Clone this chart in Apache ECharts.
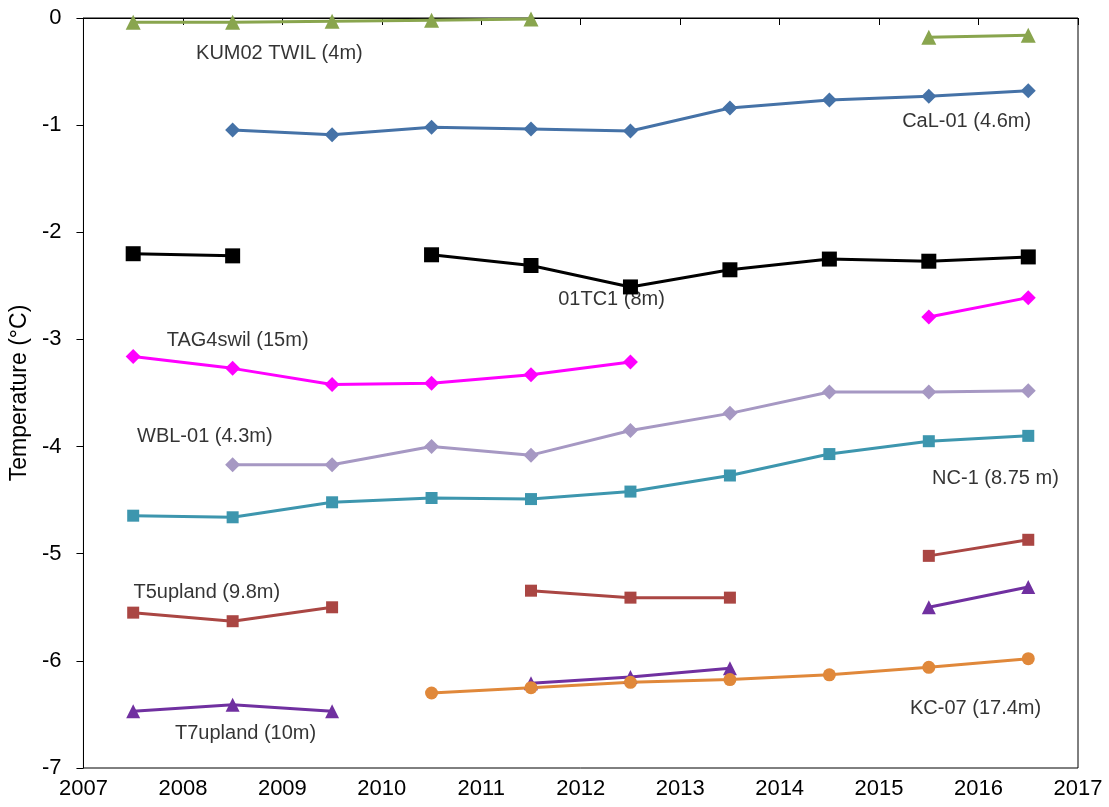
<!DOCTYPE html>
<html>
<head>
<meta charset="utf-8">
<script src="https://cdn.jsdelivr.net/npm/echarts@6/dist/echarts.min.js"></script>
<style>html,body{margin:0;padding:0;background:#fff}#c{width:1109px;height:807px}</style>
</head>
<body>
<div id="c"></div>
<script>
const years = [2007.5, 2008.5, 2009.5, 2010.5, 2011.5, 2012.5, 2013.5, 2014.5, 2015.5, 2016.5];
const kum02 = [-0.04, -0.04, -0.03, -0.02, -0.01, null, null, null, -0.18, -0.16];
const cal01 = [null, -1.045, -1.09, -1.02, -1.035, -1.055, -0.84, -0.765, -0.73, -0.68];
const tc01 = [-2.20, -2.22, null, -2.21, -2.31, -2.51, -2.35, -2.25, -2.27, -2.23];
const tag4 = [-3.16, -3.27, -3.42, -3.41, -3.33, -3.21, null, null, -2.79, -2.61];
const wbl01 = [null, -4.17, -4.17, -4.00, -4.08, -3.85, -3.69, -3.49, -3.49, -3.48];
const nc1 = [-4.645, -4.66, -4.52, -4.48, -4.49, -4.42, -4.27, -4.07, -3.95, -3.90];
const t5 = [-5.55, -5.63, -5.50, null, -5.345, -5.41, -5.41, null, -5.02, -4.87];
const t7 = [-6.47, -6.41, -6.47, null, -6.21, -6.15, -6.07, null, -5.50, -5.31];
const kc07 = [null, null, null, -6.30, -6.25, -6.20, -6.175, -6.13, -6.06, -5.98];
const labels = [
  [2008.97, -0.33, 'KUM02 TWIL (4m)'],
  [2015.88, -0.97, 'CaL-01 (4.6m)'],
  [2012.31, -2.63, '01TC1 (8m)'],
  [2008.55, -3.01, 'TAG4swil (15m)'],
  [2008.22, -3.91, 'WBL-01 (4.3m)'],
  [2016.17, -4.30, 'NC-1 (8.75 m)'],
  [2008.24, -5.36, 'T5upland (9.8m)'],
  [2008.63, -6.68, 'T7upland (10m)'],
  [2015.97, -6.44, 'KC-07 (17.4m)']
];
const FONT = 'Liberation Sans, Arial, sans-serif';
function mk(name, vals, color, symbol, size) {
  return {
    name: name, type: 'line',
    data: years.map((y, i) => [y, vals[i] === null ? '-' : vals[i]]),
    symbol: symbol, symbolSize: size,
    lineStyle: {color: color, width: 3},
    itemStyle: {color: color},
    connectNulls: false,
    silent: true, animation: false, z: 3
  };
}
const chart = echarts.init(document.getElementById('c'));
chart.setOption({
  animation: false,
  grid: {left: 82, right: 31, top: 18, bottom: 39, show: true, borderColor: '#000', borderWidth: 1},
  xAxis: {
    type: 'value', min: 2007, max: 2017, interval: 1,
    axisLine: {show: true, lineStyle: {color: '#000', width: 1}},
    axisTick: {show: true, inside: false, length: 7, lineStyle: {color: '#000'}},
    splitLine: {show: false},
    axisLabel: {color: '#000', fontSize: 22, fontFamily: FONT, margin: 10, formatter: v => String(v)}
  },
  yAxis: {
    type: 'value', min: -7, max: 0, interval: 1,
    name: 'Temperature (°C)', nameLocation: 'middle', nameGap: 47, nameRotate: 90,
    nameTextStyle: {color: '#000', fontSize: 23, fontFamily: FONT},
    axisLine: {show: true, lineStyle: {color: '#000', width: 1}},
    axisTick: {show: true, inside: false, length: 7, lineStyle: {color: '#000'}},
    splitLine: {show: false},
    axisLabel: {color: '#000', fontSize: 22, fontFamily: FONT, margin: 22}
  },
  series: [
    mk('KUM02 TWIL (4m)', kum02, '#89a54e', 'triangle', 15),
    mk('CaL-01 (4.6m)', cal01, '#4572a7', 'diamond', 15),
    mk('01TC1 (8m)', tc01, '#000000', 'rect', 15),
    mk('TAG4swil (15m)', tag4, '#ff00ff', 'diamond', 15),
    mk('WBL-01 (4.3m)', wbl01, '#a698c3', 'diamond', 15),
    mk('NC-1 (8.75 m)', nc1, '#3d96ae', 'rect', 12),
    mk('T5upland (9.8m)', t5, '#aa4643', 'rect', 12),
    mk('T7upland (10m)', t7, '#7030a0', 'triangle', 14),
    mk('KC-07 (17.4m)', kc07, '#e0883a', 'circle', 13),
    {
      type: 'scatter', data: labels, symbolSize: 1, silent: true, z: 5,
      itemStyle: {color: 'rgba(0,0,0,0)'},
      label: {show: true, position: 'inside', formatter: p => p.data[2], color: '#000', textBorderWidth: 0, textBorderColor: 'transparent', fontSize: 20, fontFamily: FONT}
    }
  ]
});
</script>
</body>
</html>
